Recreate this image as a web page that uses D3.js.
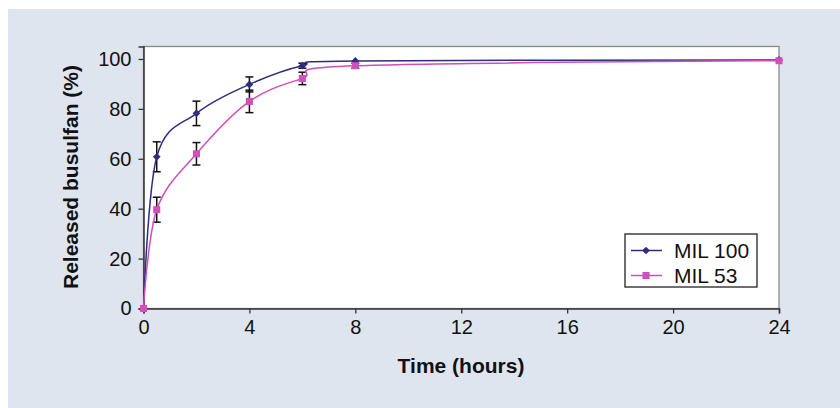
<!DOCTYPE html>
<html>
<head>
<meta charset="utf-8">
<script src="https://cdn.jsdelivr.net/npm/d3@7"></script>
<style>
  html, body { margin: 0; padding: 0; background: #ffffff; }
  svg { display: block; font-family: "Liberation Sans", Arial, sans-serif; }
</style>
</head>
<body>
<div class="chart"></div>
<script>
// release data, hours vs % released
var times = [0, 0.5, 2, 4, 6, 8, 24];
var mil100 = [0, 60.8, 78.2, 89.8, 97.3, 99.2, 99.6];
var mil100Err = [0, 6, 4.9, 3, 1, 0.6, 0.5];
var mil53 = [0, 39.6, 62, 83, 92.2, 97.3, 99.3];
var mil53Err = [0, 5, 4.5, 4.5, 2.5, 1, 0.5];
var xTicks = [0, 4, 8, 12, 16, 20, 24];
var yTicks = [0, 20, 40, 60, 80, 100];
var seriesNames = ["MIL 100", "MIL 53"];

var width = 840, height = 408;
var navy = "#2e2d80", pink = "#d04fb8";

var svg = d3.select(".chart").append("svg")
  .attr("width", width).attr("height", height);

svg.append("rect").attr("x", 8).attr("y", 9).attr("width", width - 8).attr("height", height - 9)
  .style("fill", "#dfe5ef");

var x = d3.scaleLinear().domain([0, 24]).range([143.5, 779]);
var y = d3.scaleLinear().domain([0, 105]).range([308.5, 46.5]);

// plot area
svg.append("rect").attr("x", x(0)).attr("y", y(105)).attr("width", x(24) - x(0)).attr("height", y(0) - y(105))
  .style("fill", "#ffffff").style("stroke", "#8a8a8a").style("stroke-width", 1.3);

var xAxis = svg.append("g").attr("transform", "translate(0," + y(0) + ")")
  .call(d3.axisBottom(x).tickValues(xTicks).tickSize(5).tickPadding(6));
var yAxis = svg.append("g").attr("transform", "translate(" + x(0) + ",0)")
  .call(d3.axisLeft(y).tickValues(yTicks).tickSize(5).tickPadding(7));
[xAxis, yAxis].forEach(function(a) {
  a.select(".domain").style("stroke", "#333").style("stroke-width", 1.5);
  a.selectAll(".tick line").style("stroke", "#333").style("stroke-width", 1.3);
  a.selectAll(".tick text").style("font-size", "20px").style("fill", "#111")
    .style("font-family", "'Liberation Sans', Arial, sans-serif");
});

svg.append("text").attr("x", 461).attr("y", 373).attr("text-anchor", "middle")
  .style("font-size", "21px").style("font-weight", "bold").style("fill", "#111")
  .text("Time (hours)");
svg.append("text").attr("transform", "translate(78," + 177 + ") rotate(-90)").attr("text-anchor", "middle")
  .style("font-size", "21px").style("font-weight", "bold").style("fill", "#111")
  .text("Released busulfan (%)");

// diamond = square turned 45 degrees
var series = [
  { name: seriesNames[0], values: mil100, err: mil100Err, color: navy, rot: 45, size: 30 },
  { name: seriesNames[1], values: mil53, err: mil53Err, color: pink, rot: 0, size: 50 }
];

// Excel-style smoothing is close to a uniform Catmull-Rom
var line = d3.line().curve(d3.curveCatmullRom.alpha(0));

// error bars first
series.forEach(function(s) {
  var g = svg.append("g");
  times.forEach(function(t, i) {
    if (s.err[i] <= 0.6) return;
    var cx = x(t), y1 = y(s.values[i] + s.err[i]), y2 = y(s.values[i] - s.err[i]);
    g.append("line").attr("x1", cx).attr("x2", cx).attr("y1", y1).attr("y2", y2).style("stroke", "#111").style("stroke-width", 1.5);
    g.append("line").attr("x1", cx - 4).attr("x2", cx + 4).attr("y1", y1).attr("y2", y1).style("stroke", "#111").style("stroke-width", 1.5);
    g.append("line").attr("x1", cx - 4).attr("x2", cx + 4).attr("y1", y2).attr("y2", y2).style("stroke", "#111").style("stroke-width", 1.5);
  });
});

series.forEach(function(s) {
  var pts = times.map(function(t, i) { return [x(t), y(s.values[i])]; });
  svg.append("path").attr("d", line(pts)).style("fill", "none").style("stroke", s.color).style("stroke-width", 1.5);
  svg.append("g").selectAll("path").data(pts).enter().append("path")
    .attr("transform", function(p) { return "translate(" + p[0] + "," + p[1] + ") rotate(" + s.rot + ")"; })
    .attr("d", d3.symbol().type(d3.symbolSquare).size(s.size))
    .style("fill", s.color);
});

// legend
var lg = svg.append("g");
lg.append("rect").attr("x", 625).attr("y", 234).attr("width", 132).attr("height", 53)
  .style("fill", "#ffffff").style("stroke", "#222").style("stroke-width", 1.3);
series.forEach(function(s, i) {
  var ly = 250.5 + i * 25;
  lg.append("line").attr("x1", 631).attr("x2", 662).attr("y1", ly).attr("y2", ly).style("stroke", s.color).style("stroke-width", 1.5);
  lg.append("path").attr("transform", "translate(646," + ly + ") rotate(" + s.rot + ")")
    .attr("d", d3.symbol().type(d3.symbolSquare).size(s.size)).style("fill", s.color);
  lg.append("text").attr("x", 674).attr("y", ly + 7).style("font-size", "21px").style("fill", "#111").text(s.name);
});
</script>
</body>
</html>
